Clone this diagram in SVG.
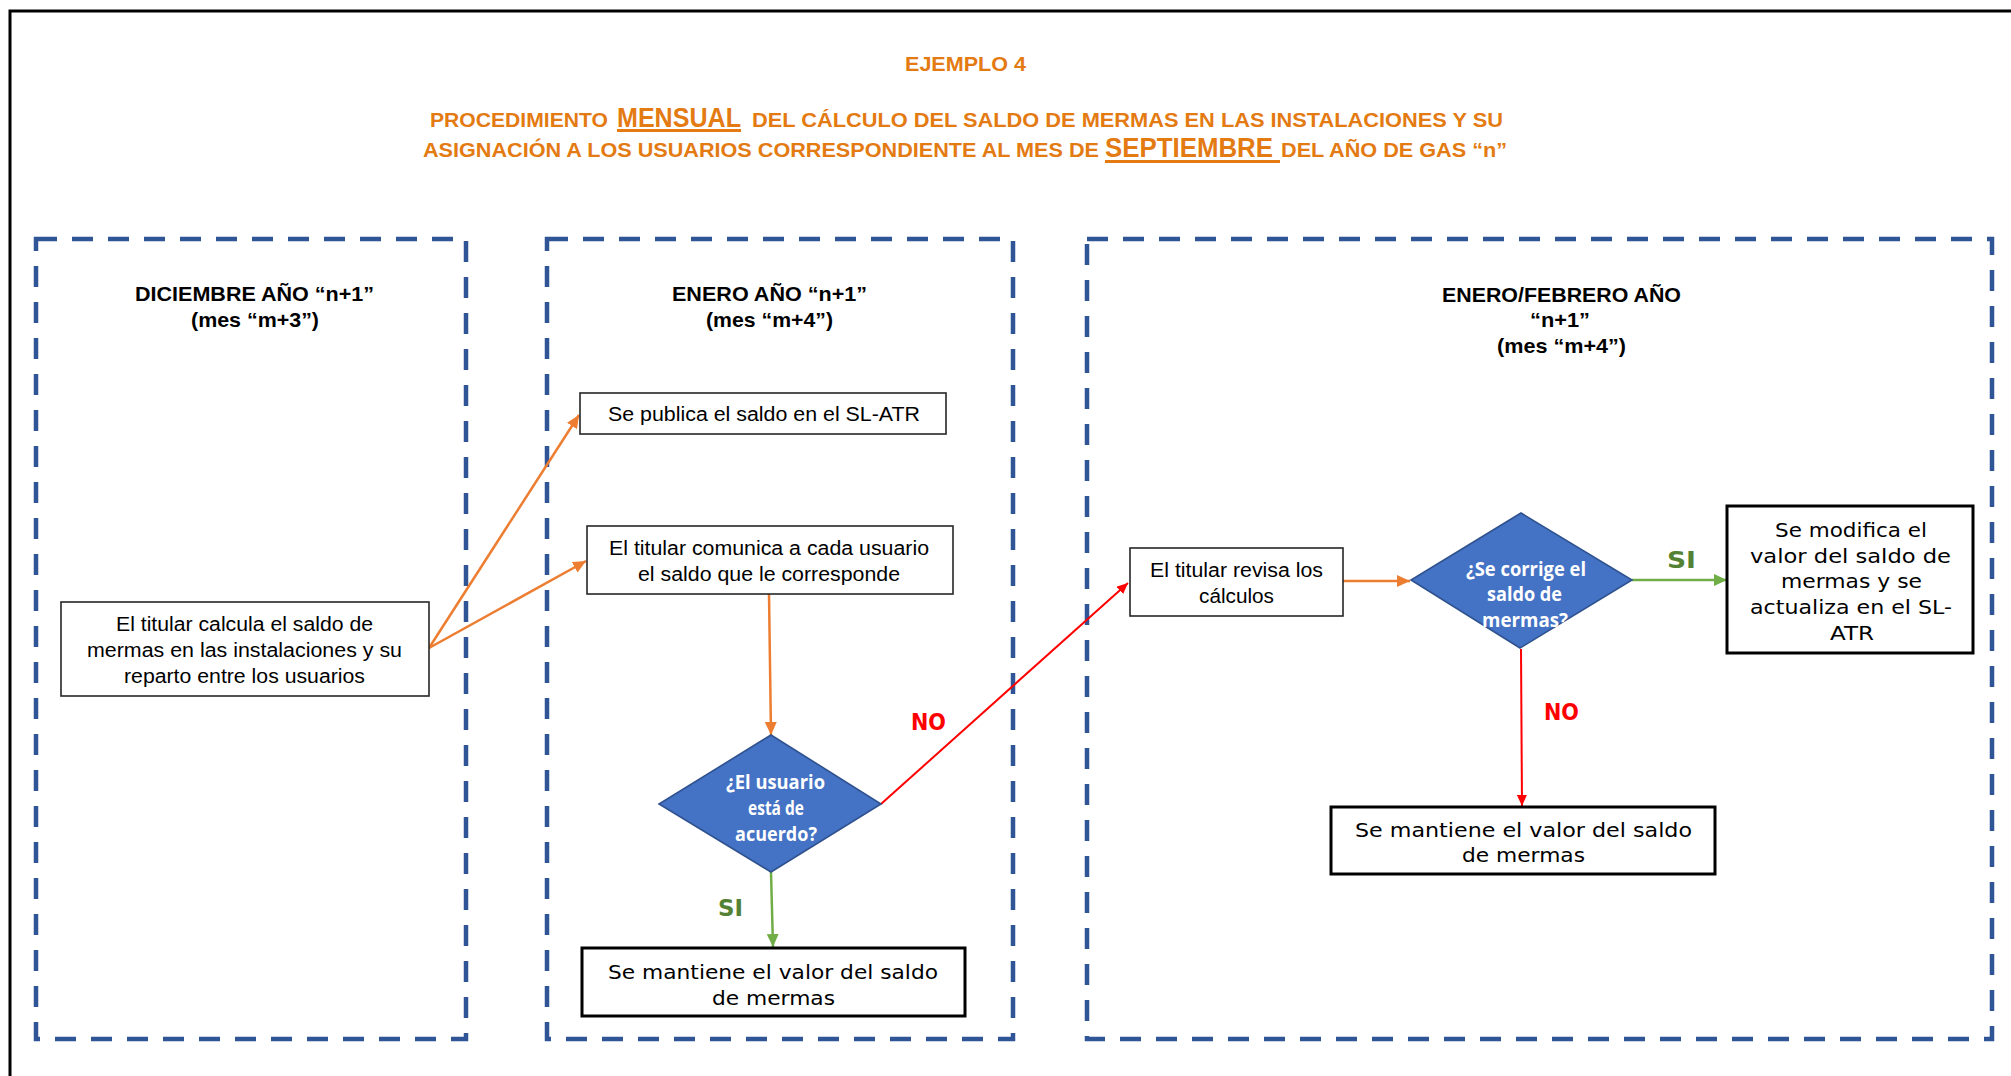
<svg xmlns="http://www.w3.org/2000/svg" width="2011" height="1076" viewBox="0 0 2011 1076">
  <style>
    .title { font-family: "Liberation Sans", Arial, sans-serif; font-weight: bold; fill: #E37A12; font-size: 20px; }
    .title-big { font-size: 27px; }
    .head { font-family: "Liberation Sans", Arial, sans-serif; font-weight: bold; fill: #000; font-size: 21px; }
    .lane { fill: none; stroke: #2F5597; stroke-width: 4.5; stroke-dasharray: 21 15; }
    .box { fill: #fff; stroke: #262626; stroke-width: 1.6; }
    .box-thick { fill: #fff; stroke: #000; stroke-width: 3; }
    .txt { font-family: "Liberation Sans", Arial, sans-serif; font-size: 20px; fill: #000; }
    .txt-v { font-family: "DejaVu Sans", Verdana, sans-serif; font-size: 20px; fill: #000; }
    .dec { fill: #4472C4; stroke: #2F528F; stroke-width: 1.6; }
    .dec-txt { font-family: "Open Sans", "Noto Sans", sans-serif; font-weight: bold; font-size: 19px; fill: #fff; }
    .lbl { font-family: "DejaVu Sans", Verdana, sans-serif; font-weight: bold; font-size: 23px; }
    .yes { fill: #548235; }
    .no { fill: #FF0000; }
    .c-orange { fill: none; stroke: #ED7D31; stroke-width: 2.5; }
    .c-green { fill: none; stroke: #70AD47; stroke-width: 2.5; }
    .c-red { fill: none; stroke: #FF0000; stroke-width: 2; }
  </style>
  <defs>
    <marker id="arrow-orange" markerUnits="userSpaceOnUse" markerWidth="14" markerHeight="12" refX="13" refY="6" orient="auto">
      <path d="M0,0 L13,6 L0,12 z" fill="#ED7D31"/>
    </marker>
    <marker id="arrow-green" markerUnits="userSpaceOnUse" markerWidth="14" markerHeight="12" refX="13" refY="6" orient="auto">
      <path d="M0,0 L13,6 L0,12 z" fill="#70AD47"/>
    </marker>
    <marker id="arrow-red" markerUnits="userSpaceOnUse" markerWidth="12" markerHeight="10" refX="11" refY="5" orient="auto">
      <path d="M0,0 L11,5 L0,10 z" fill="#FF0000"/>
    </marker>
  </defs>

  <rect x="0" y="0" width="2011" height="1076" fill="#fff"/>
  <!-- page frame -->
  <path d="M10,1076 V11 H2011" fill="none" stroke="#000" stroke-width="3"/>

  <!-- title -->
  <g id="title">
    <text class="title" x="905" y="71" textLength="121" lengthAdjust="spacingAndGlyphs">EJEMPLO 4</text>
    <text class="title" x="430" y="127" textLength="178" lengthAdjust="spacingAndGlyphs">PROCEDIMIENTO</text>
    <text class="title title-big" x="617" y="127" textLength="124" lengthAdjust="spacingAndGlyphs">MENSUAL</text>
    <rect x="617" y="129" width="124" height="3" fill="#E37A12"/>
    <text class="title" x="752" y="127" textLength="751" lengthAdjust="spacingAndGlyphs">DEL CÁLCULO  DEL SALDO DE MERMAS EN LAS INSTALACIONES Y SU</text>
    <text class="title" x="423" y="157" textLength="676" lengthAdjust="spacingAndGlyphs">ASIGNACIÓN  A LOS USUARIOS CORRESPONDIENTE AL MES DE</text>
    <text class="title title-big" x="1105" y="157" textLength="168" lengthAdjust="spacingAndGlyphs">SEPTIEMBRE</text>
    <rect x="1105" y="160" width="175" height="3" fill="#E37A12"/>
    <text class="title" x="1281" y="157" textLength="226" lengthAdjust="spacingAndGlyphs">DEL AÑO DE GAS “n”</text>
  </g>

  <!-- swimlanes -->
  <g id="lane-diciembre">
    <rect class="lane" x="36" y="239" width="430" height="800"/>
    <text class="head" x="135" y="301" textLength="239" lengthAdjust="spacingAndGlyphs">DICIEMBRE AÑO “n+1”</text>
    <text class="head" x="191" y="327" textLength="128" lengthAdjust="spacingAndGlyphs">(mes “m+3”)</text>
  </g>
  <g id="lane-enero">
    <rect class="lane" x="547" y="239" width="466" height="800"/>
    <text class="head" x="672" y="301" textLength="195" lengthAdjust="spacingAndGlyphs">ENERO AÑO “n+1”</text>
    <text class="head" x="706" y="327" textLength="127" lengthAdjust="spacingAndGlyphs">(mes “m+4”)</text>
  </g>
  <g id="lane-enero-febrero">
    <rect class="lane" x="1087" y="239" width="905" height="800"/>
    <text class="head" x="1442" y="302" textLength="239" lengthAdjust="spacingAndGlyphs">ENERO/FEBRERO AÑO</text>
    <text class="head" x="1530" y="327" textLength="60" lengthAdjust="spacingAndGlyphs">“n+1”</text>
    <text class="head" x="1497" y="353" textLength="129" lengthAdjust="spacingAndGlyphs">(mes “m+4”)</text>
  </g>

  <!-- connectors -->
  <g id="connectors">
    <path class="c-orange" d="M429,648 L579,415" marker-end="url(#arrow-orange)"/>
    <path class="c-orange" d="M429,648 L586,561" marker-end="url(#arrow-orange)"/>
    <path class="c-orange" d="M769,594 L771,735" marker-end="url(#arrow-orange)"/>
    <path class="c-green" d="M771,872 L773,947" marker-end="url(#arrow-green)"/>
    <path class="c-red" d="M881,804 L1128,583" marker-end="url(#arrow-red)"/>
    <path class="c-orange" d="M1343,581 L1410,581" marker-end="url(#arrow-orange)"/>
    <path class="c-green" d="M1632,580 L1727,580" marker-end="url(#arrow-green)"/>
    <path class="c-red" d="M1521,649 L1522,806" marker-end="url(#arrow-red)"/>
    <text class="lbl no" x="911" y="730" textLength="35" lengthAdjust="spacingAndGlyphs">NO</text>
    <text class="lbl yes" x="718" y="916" textLength="25" lengthAdjust="spacingAndGlyphs">SI</text>
    <text class="lbl yes" x="1667" y="568" textLength="29" lengthAdjust="spacingAndGlyphs">SI</text>
    <text class="lbl no" x="1544" y="720" textLength="35" lengthAdjust="spacingAndGlyphs">NO</text>
  </g>

  <!-- nodes -->
  <g id="calcula-saldo">
    <rect class="box" x="61" y="602" width="368" height="94"/>
    <text class="txt" x="116" y="631" textLength="257" lengthAdjust="spacingAndGlyphs">El titular  calcula el saldo de</text>
    <text class="txt" x="87" y="657" textLength="315" lengthAdjust="spacingAndGlyphs">mermas  en las instalaciones y su</text>
    <text class="txt" x="124" y="683" textLength="241" lengthAdjust="spacingAndGlyphs">reparto entre los  usuarios</text>
  </g>
  <g id="publica-saldo">
    <rect class="box" x="580" y="393" width="366" height="41"/>
    <text class="txt" x="608" y="421" textLength="312" lengthAdjust="spacingAndGlyphs">Se publica el saldo  en el SL-ATR</text>
  </g>
  <g id="comunica-usuario">
    <rect class="box" x="587" y="526" width="366" height="68"/>
    <text class="txt" x="609" y="555" textLength="320" lengthAdjust="spacingAndGlyphs">El titular  comunica a cada usuario</text>
    <text class="txt" x="638" y="581" textLength="262" lengthAdjust="spacingAndGlyphs">el saldo  que le corresponde</text>
  </g>
  <g id="usuario-de-acuerdo">
    <polygon class="dec" points="771,735 881,804 771,872 659,804"/>
    <text class="dec-txt" x="726" y="789" textLength="99" lengthAdjust="spacingAndGlyphs">¿El usuario</text>
    <text class="dec-txt" x="748" y="815" textLength="56" lengthAdjust="spacingAndGlyphs">está de</text>
    <text class="dec-txt" x="735" y="841" textLength="82" lengthAdjust="spacingAndGlyphs">acuerdo?</text>
  </g>
  <g id="mantiene-valor-1">
    <rect class="box-thick" x="582" y="948" width="383" height="68"/>
    <text class="txt-v" x="608" y="979" textLength="330" lengthAdjust="spacingAndGlyphs">Se mantiene el valor del saldo</text>
    <text class="txt-v" x="712" y="1005" textLength="123" lengthAdjust="spacingAndGlyphs">de mermas</text>
  </g>
  <g id="revisa-calculos">
    <rect class="box" x="1130" y="548" width="213" height="68"/>
    <text class="txt" x="1150" y="577" textLength="173" lengthAdjust="spacingAndGlyphs">El titular  revisa los</text>
    <text class="txt" x="1199" y="603" textLength="75" lengthAdjust="spacingAndGlyphs">cálculos</text>
  </g>
  <g id="se-corrige">
    <polygon class="dec" points="1521,513 1632,580 1520,648 1411,580"/>
    <text class="dec-txt" x="1466" y="576" textLength="120" lengthAdjust="spacingAndGlyphs">¿Se corrige el</text>
    <text class="dec-txt" x="1487" y="601" textLength="75" lengthAdjust="spacingAndGlyphs">saldo de</text>
    <text class="dec-txt" x="1482" y="627" textLength="86" lengthAdjust="spacingAndGlyphs">mermas?</text>
  </g>
  <g id="modifica-valor">
    <rect class="box-thick" x="1727" y="506" width="246" height="147"/>
    <text class="txt-v" x="1775" y="537" textLength="152" lengthAdjust="spacingAndGlyphs">Se modifica el</text>
    <text class="txt-v" x="1750" y="563" textLength="201" lengthAdjust="spacingAndGlyphs">valor  del saldo de</text>
    <text class="txt-v" x="1781" y="588" textLength="141" lengthAdjust="spacingAndGlyphs">mermas y se</text>
    <text class="txt-v" x="1750" y="614" textLength="202" lengthAdjust="spacingAndGlyphs">actualiza en el SL-</text>
    <text class="txt-v" x="1830" y="640" textLength="44" lengthAdjust="spacingAndGlyphs">ATR</text>
  </g>
  <g id="mantiene-valor-2">
    <rect class="box-thick" x="1331" y="807" width="384" height="67"/>
    <text class="txt-v" x="1355" y="837" textLength="337" lengthAdjust="spacingAndGlyphs">Se mantiene el valor  del saldo</text>
    <text class="txt-v" x="1462" y="862" textLength="123" lengthAdjust="spacingAndGlyphs">de mermas</text>
  </g>
</svg>
